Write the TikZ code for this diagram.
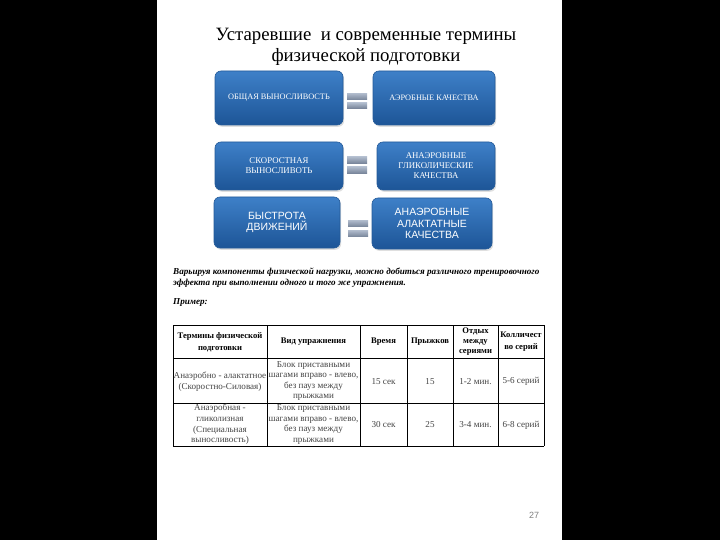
\documentclass[tikz,border=0pt]{standalone}
\usepackage{fontspec}
\setmainfont{Liberation Serif}
\newfontfamily\arialf{Liberation Sans}
\usetikzlibrary{shadows}
\definecolor{boxtop}{HTML}{3E80C8}
\definecolor{boxbot}{HTML}{1D5597}
\definecolor{boxedge}{HTML}{245A98}
\definecolor{bartop}{HTML}{B0BBCC}
\definecolor{barbot}{HTML}{78859A}
\definecolor{celltext}{HTML}{444444}
\tikzset{
  bluebox/.style={rounded corners=6pt, draw=boxedge, line width=0.6pt,
    top color=boxtop, bottom color=boxbot, text=white, align=center,
    inner sep=2pt, drop shadow={opacity=0.25, shadow xshift=1.2pt, shadow yshift=-1.8pt}},
  serifcaps/.style={font=\fontsize{8.3}{10}\selectfont},
  serifcaps2/.style={font=\fontsize{8.8}{10}\selectfont},
  sanscaps/.style={font=\arialf\fontsize{10.5}{11.5}\selectfont},
  eqbar/.style={top color=bartop, bottom color=barbot, draw=none, minimum width=20pt, minimum height=6.5pt, inner sep=0pt},
  hcell/.style={font=\bfseries\fontsize{8.6}{12}\selectfont, align=center, text=black, inner sep=0pt},
  bcell/.style={font=\fontsize{9.1}{10.6}\selectfont, align=center, text=celltext, inner sep=0pt},
  tline/.style={line width=0.9pt, black}
}
\begin{document}
\begin{tikzpicture}[x=1pt,y=-1pt]
\useasboundingbox (0,0) rectangle (720,540);
\fill[black] (0,0) rectangle (720,540);
\fill[white] (157,0) rectangle (562,540);

% title
\node[font=\fontsize{18.8}{20.5}\selectfont, align=center] (title) at (366,47)
  {Устаревшие\ \ и современные термины\\физической подготовки};

% boxes
\node[bluebox, serifcaps, minimum width=128pt, minimum height=54pt] (b1) at (279,98) {ОБЩАЯ ВЫНОСЛИВОСТЬ};
\node[bluebox, serifcaps, minimum width=122pt, minimum height=54pt] (b2) at (434,98) {АЭРОБНЫЕ КАЧЕСТВА};
\node[bluebox, serifcaps2, minimum width=128pt, minimum height=48pt] (b3) at (279,166) {СКОРОСТНАЯ\\ВЫНОСЛИВОТЬ};
\node[bluebox, serifcaps2, minimum width=118pt, minimum height=48pt] (b4) at (436,166) {АНАЭРОБНЫЕ\\ГЛИКОЛИЧЕСКИЕ\\КАЧЕСТВА};
\node[bluebox, sanscaps, minimum width=126pt, minimum height=51pt] (b5) at (277,222.5) {БЫСТРОТА\\ДВИЖЕНИЙ};
\node[bluebox, sanscaps, minimum width=120pt, minimum height=51pt] (b6) at (432,223.5) {АНАЭРОБНЫЕ\\АЛАКТАТНЫЕ\\КАЧЕСТВА};

% equal signs
\node[eqbar] (e1a) at (357,96.5) {};
\node[eqbar, minimum height=5.5pt] (e1b) at (357,105.5) {};
\node[eqbar] (e2a) at (357,160) {};
\node[eqbar] (e2b) at (357,170) {};
\node[eqbar] (e3a) at (358,223.5) {};
\node[eqbar] (e3b) at (358,233.5) {};

% paragraph
\node[font=\bfseries\itshape\fontsize{9.1}{11.5}\selectfont, align=left, anchor=north west, inner sep=0pt] (para) at (173,267.5)
  {Варьируя компоненты физической нагрузки, можно добиться различного тренировочного\\эффекта при выполнении одного и того же упражнения.};
\node[font=\bfseries\itshape\fontsize{9.1}{11}\selectfont, anchor=west, inner sep=0pt] (ex) at (173,302.5) {Пример:};

% table grid
\foreach \n/\x in {0/173,1/267,2/360,3/407,4/453,5/498,6/544}{
  \coordinate (t\n) at (\x,325);
  \coordinate (b\n) at (\x,446);
}
\foreach \n/\y in {0/325,1/358,2/403,3/446}{
  \coordinate (l\n) at (173,\y);
  \coordinate (r\n) at (544,\y);
}
\foreach \n in {0,...,6}{ \draw[tline] (t\n) -- (b\n); }
\foreach \n in {0,...,3}{ \draw[tline] (l\n) -- (r\n); }

% header
\node[hcell] (h1) at (220,342) {Термины физической\\подготовки};
\node[hcell] (h2) at (313.5,342) {Вид упражнения};
\node[hcell] (h3) at (383.5,342) {Время};
\node[hcell] (h4) at (430,342) {Прыжков};
\node[hcell, font=\bfseries\fontsize{8.6}{10}\selectfont] (h5) at (475.5,341.5) {Отдых\\между\\сериями};
\node[hcell] (h6) at (521,342) {Колличест\\во серий};

% row 1
\node[bcell] (c11) at (220,381.5) {Анаэробно - алактатное\\(Скоростно-Силовая)};
\node[bcell] (c12) at (313.5,381) {Блок приставными\\шагами вправо - влево,\\без пауз между\\прыжками};
\node[bcell] (c13) at (383.5,381.5) {15 сек};
\node[bcell] (c14) at (430,381.5) {15};
\node[bcell] (c15) at (475.5,381.5) {1-2 мин.};
\node[bcell] (c16) at (521,381.5) {5-6 серий};

% row 2
\node[bcell] (c21) at (220,424.5) {Анаэробная -\\гликолизная\\(Специальная\\выносливость)};
\node[bcell] (c22) at (313.5,424.5) {Блок приставными\\шагами вправо - влево,\\без пауз между\\прыжками};
\node[bcell] (c23) at (383.5,425) {30 сек};
\node[bcell] (c24) at (430,425) {25};
\node[bcell] (c25) at (475.5,425) {3-4 мин.};
\node[bcell] (c26) at (521,425) {6-8 серий};

% page number
\node[font=\arialf\fontsize{9}{10}\selectfont, text=gray] (pg) at (534,515) {27};
\end{tikzpicture}
\end{document}
